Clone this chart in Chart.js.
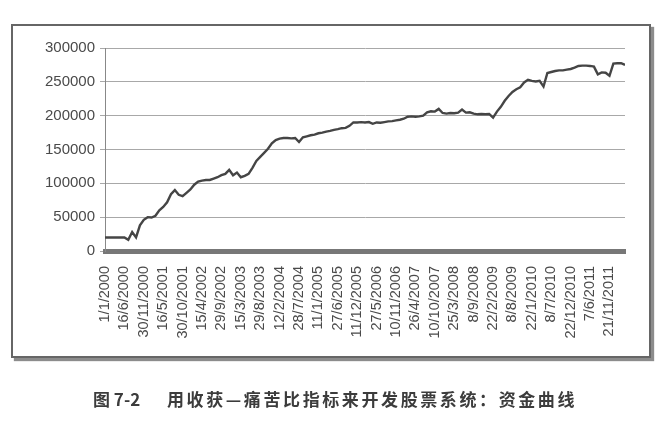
<!DOCTYPE html>
<html>
<head>
<meta charset="utf-8">
<script src="https://cdn.jsdelivr.net/npm/chart.js@4/dist/chart.umd.min.js"></script>
<style>
  html, body { margin: 0; padding: 0; background: #fff; }
  body { width: 668px; height: 432px; position: relative; overflow: hidden; }
  #frame {
    position: absolute; left: 11px; top: 24px; width: 636px; height: 330px;
    border: 2px solid #666; box-shadow: 3px 3px 1px #8c8c8c;
  }
  #wrap { position: absolute; left: 0; top: 0; width: 668px; height: 432px; }
  .cap {
    position: absolute; top: 386px; font-family: "Noto Sans CJK SC", sans-serif;
    font-weight: bold; font-size: 17px; color: #3c3c3c; white-space: nowrap;
  }
</style>
</head>
<body>
<div id="frame"></div>
<div id="wrap"><canvas id="grafik" width="668" height="432"></canvas></div>
<div class="cap" style="left:93px">图 7-2</div>
<div class="cap" style="left:167px; letter-spacing:2.6px">用收获—痛苦比指标来开发股票系统：资金曲线</div>

<script>
// tanggal di sumbu x, satu label tiap 5 titik data
const tickLabels = [
  '1/1/2000', '16/6/2000', '30/11/2000', '16/5/2001', '30/10/2001', '15/4/2002',
  '29/9/2002', '15/3/2003', '29/8/2003', '12/2/2004', '28/7/2004', '11/1/2005',
  '27/6/2005', '11/12/2005', '27/5/2006', '10/11/2006', '26/4/2007', '10/10/2007',
  '25/3/2008', '8/9/2008', '22/2/2009', '8/8/2009', '22/1/2010', '8/7/2010',
  '22/12/2010', '7/6/2011', '21/11/2011'
];
const pointsPerLabel = 5;

// kurva modal (equity)
const equity = [
  20000, 20000, 20000, 20000, 20000, 20000, 16500, 28000, 20000, 38000,
  46000, 50000, 49500, 52000, 60000, 65000, 72000, 84000, 90000, 83000,
  81000, 86000, 91000, 98000, 102500, 104000, 105000, 105000, 107000, 109000,
  112000, 114000, 120000, 112000, 116000, 109000, 111000, 114000, 123000, 133000,
  139000, 145000, 151000, 159000, 164000, 166000, 167000, 167000, 166500, 167000,
  161000, 168000, 169500, 171000, 172000, 174000, 175000, 176500, 177500, 179000,
  180000, 181500, 182000, 185000, 190000, 190000, 190500, 190000, 190500, 188000,
  190000, 189500, 190500, 191500, 192000, 193000, 194000, 195500, 198500, 199000,
  198500, 199000, 200000, 205000, 206500, 206000, 210000, 204000, 203000, 204000,
  203500, 204500, 209000, 204500, 205000, 203000, 202000, 202500, 202000, 202500,
  197000, 206000, 213000, 222000, 229000, 235000, 239000, 242000, 249000, 253000,
  251500, 250500, 251500, 243000, 263000, 264500, 266000, 267000, 267000, 268000,
  269000, 271000, 273500, 274000, 274000, 273500, 272500, 261000, 264000, 263500,
  259000, 277000, 277500, 277500, 275000
];

const yTicks = { min: 0, max: 300000, step: 50000 };

const ctx = document.getElementById('grafik').getContext('2d');

new Chart(ctx, {
  type: 'line',
  data: {
    datasets: [{
      label: 'Equity',
      data: equity.map((v, i) => ({ x: i, y: v })),
      borderColor: '#454545',
      borderWidth: 2.4,
      pointRadius: 0,
      fill: false,
      tension: 0
    }]
  },
  options: {
    responsive: false,
    animation: false,
    layout: { padding: { left: 10, right: 43, top: 48, bottom: 81 } },
    plugins: {
      legend: { display: false },
      tooltip: { enabled: false }
    },
    scales: {
      x: {
        type: 'linear',
        min: 0,
        max: equity.length - 1,
        grid: { display: false },
        border: { display: true, color: '#777', width: 5 },
        ticks: {
          stepSize: pointsPerLabel,
          includeBounds: false,
          autoSkip: false,
          maxRotation: 90,
          minRotation: 90,
          padding: 7,
          color: '#4a4a4a',
          font: { family: 'Liberation Sans', size: 14.5 },
          callback: function (value) {
            const idx = value / pointsPerLabel;
            return Number.isInteger(idx) && tickLabels[idx] ? tickLabels[idx] : '';
          }
        },
        afterFit: function (scale) { scale.height = 100; }
      },
      y: {
        min: yTicks.min,
        max: yTicks.max,
        grid: { color: '#a8a8a8', lineWidth: 1, tickLength: 5 },
        border: { display: true, color: '#888', width: 1 },
        ticks: {
          stepSize: yTicks.step,
          padding: 5,
          color: '#4a4a4a',
          font: { family: 'Liberation Sans', size: 15 },
          callback: function (value) { return String(value); }
        },
        afterFit: function (scale) { scale.width = 95; }
      }
    }
  }
});
</script>
</body>
</html>
